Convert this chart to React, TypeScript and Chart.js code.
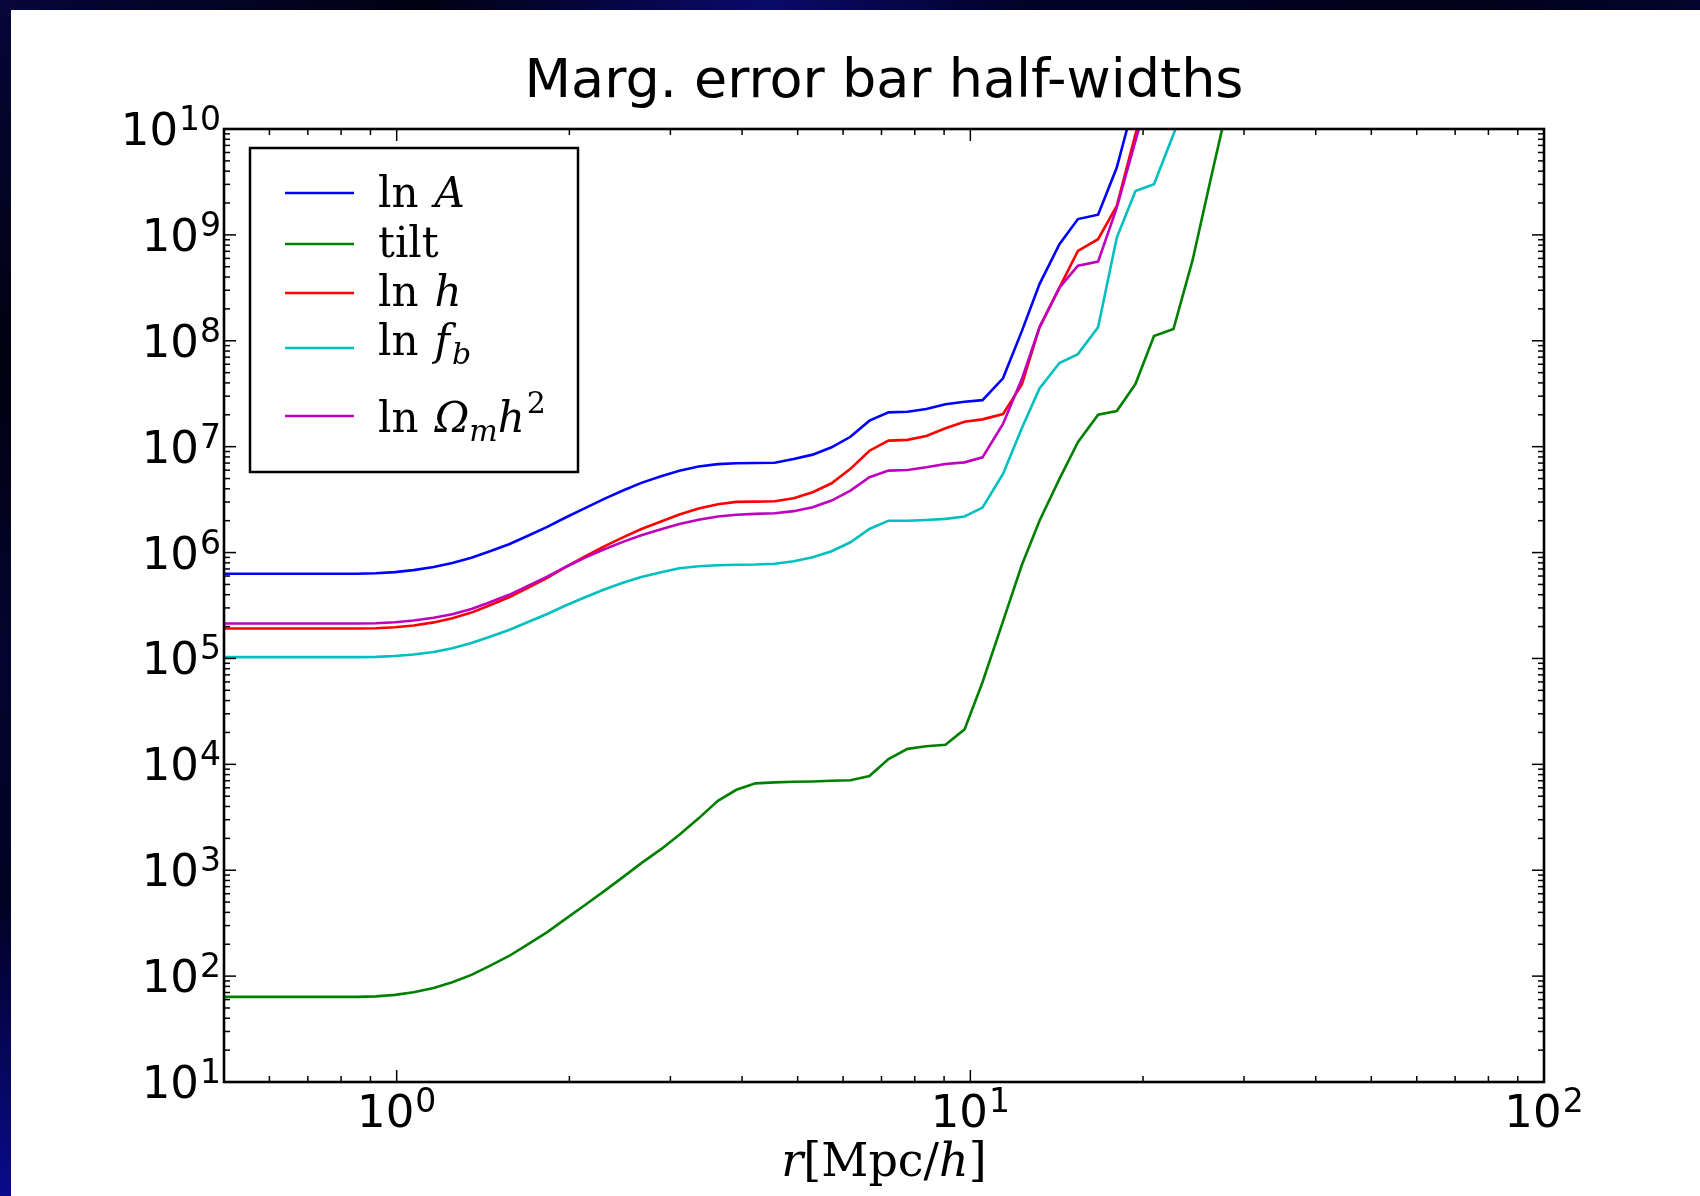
import React, { useEffect, useRef } from "react";
import { Chart, registerables } from "chart.js";

Chart.register(...registerables);

// ---------------- data ----------------
const TITLE = "Marg. error bar half-widths";

const R_VALUES = [
  0.5, 0.54, 0.582, 0.629, 0.678, 0.732, 0.79, 0.853, 0.92, 0.993,
  1.07, 1.16, 1.25, 1.35, 1.45, 1.57, 1.69, 1.83, 1.97, 2.13,
  2.3, 2.48, 2.67, 2.89, 3.11, 3.36, 3.63, 3.91, 4.22, 4.56,
  4.92, 5.31, 5.73, 6.18, 6.67, 7.2, 7.77, 8.38, 9.05, 9.77,
  10.5, 11.4, 12.3, 13.2, 14.3, 15.4, 16.7, 18.0, 19.4, 20.9,
  22.6, 24.4, 26.3, 28.4,
];

const LN_A = [
  6.3e5, 6.3e5, 6.3e5, 6.3e5, 6.3e5, 6.3e5, 6.3e5, 6.3e5, 6.37e5, 6.53e5,
  6.82e5, 7.29e5, 7.98e5, 8.93e5, 1.023e6, 1.2e6, 1.435e6, 1.746e6, 2.143e6, 2.63e6,
  3.21e6, 3.855e6, 4.55e6, 5.26e6, 5.93e6, 6.49e6, 6.84e6, 6.98e6, 7.02e6, 7.06e6,
  7.66e6, 8.41e6, 9.86e6, 1.24e7, 1.76e7, 2.11e7, 2.14e7, 2.27e7, 2.52e7, 2.66e7,
  2.75e7, 4.42e7, 1.24e8, 3.43e8, 8.17e8, 1.41e9, 1.55e9, 4.32e9, 2.0e10, null,
  null, null, null, null,
];

const TILT = [
  63.7, 63.7, 63.7, 63.7, 63.7, 63.7, 63.7, 63.7, 64.4, 66.5,
  70.5, 77.3, 87.7, 102.8, 124.2, 154.9, 198.6, 260.6, 347.5, 468.8,
  635, 861, 1167, 1581, 2163, 3090, 4520, 5750, 6610, 6760,
  6840, 6890, 7000, 7080, 7760, 11200, 14000, 14800, 15300, 21400,
  59600, 2.24e5, 7.66e5, 2.0e6, 4.96e6, 1.1e7, 2.0e7, 2.17e7, 3.9e7, 1.11e8,
  1.29e8, 5.77e8, 3.55e9, 2.19e10,
];

const LN_H = [
  1.92e5, 1.92e5, 1.92e5, 1.92e5, 1.92e5, 1.92e5, 1.92e5, 1.92e5, 1.93e5, 1.97e5,
  2.05e5, 2.19e5, 2.4e5, 2.71e5, 3.16e5, 3.78e5, 4.62e5, 5.77e5, 7.28e5, 9.18e5,
  1.143e6, 1.393e6, 1.667e6, 1.968e6, 2.29e6, 2.61e6, 2.86e6, 3.01e6, 3.03e6, 3.05e6,
  3.26e6, 3.71e6, 4.51e6, 6.17e6, 9.16e6, 1.14e7, 1.16e7, 1.26e7, 1.49e7, 1.72e7,
  1.81e7, 2.03e7, 3.9e7, 1.34e8, 3.18e8, 7.06e8, 9.1e8, 1.88e9, 8.91e9, 4.0e10,
  null, null, null, null,
];

const LN_FB = [
  1.03e5, 1.03e5, 1.03e5, 1.03e5, 1.03e5, 1.03e5, 1.03e5, 1.03e5, 1.035e5, 1.054e5,
  1.089e5, 1.151e5, 1.25e5, 1.396e5, 1.596e5, 1.858e5, 2.198e5, 2.63e5, 3.16e5, 3.78e5,
  4.47e5, 5.18e5, 5.87e5, 6.53e5, 7.1e5, 7.43e5, 7.6e5, 7.67e5, 7.7e5, 7.85e5,
  8.28e5, 9.04e5, 1.03e6, 1.25e6, 1.67e6, 2.0e6, 2.0e6, 2.03e6, 2.08e6, 2.19e6,
  2.66e6, 5.52e6, 1.5e7, 3.55e7, 6.17e7, 7.48e7, 1.34e8, 9.44e8, 2.6e9, 3.01e9,
  8.91e9, 2.5e10, null, null,
];

const LN_OMH2 = [
  2.14e5, 2.14e5, 2.14e5, 2.14e5, 2.14e5, 2.14e5, 2.14e5, 2.14e5, 2.15e5, 2.2e5,
  2.28e5, 2.42e5, 2.62e5, 2.93e5, 3.37e5, 3.99e5, 4.82e5, 5.92e5, 7.31e5, 8.95e5,
  1.074e6, 1.262e6, 1.455e6, 1.656e6, 1.858e6, 2.04e6, 2.19e6, 2.275e6, 2.32e6, 2.35e6,
  2.46e6, 2.68e6, 3.1e6, 3.85e6, 5.14e6, 5.94e6, 6.03e6, 6.38e6, 6.87e6, 7.11e6,
  7.93e6, 1.64e7, 4.37e7, 1.34e8, 3.18e8, 5.11e8, 5.6e8, 1.81e9, 7.71e9, 3.2e10,
  null, null, null, null,
];

const SERIES_NAMES = ["ln A", "tilt", "ln h", "ln f_b", "ln Omega_m h^2"];
const SERIES_COLORS = ["#0000ff", "#008000", "#ff0000", "#00bfbf", "#bf00bf"];

const X_MIN = 0.5;
const X_MAX = 100;
const Y_MIN = 10;
const Y_MAX = 1e10;
const X_TICK_EXPONENTS = [0, 1, 2];
const Y_TICK_EXPONENTS = [1, 2, 3, 4, 5, 6, 7, 8, 9, 10];
const MINOR_MULTIPLIERS = [2, 3, 4, 5, 6, 7, 8, 9];

type Run = { t: string; it?: boolean; size?: number; dy?: number; pad?: number };

const LEGEND_RUNS: Run[][] = [
  [{ t: "ln" }, { t: "A", it: true, pad: 16 }],
  [{ t: "tilt" }],
  [{ t: "ln" }, { t: "h", it: true, pad: 16 }],
  [{ t: "ln" }, { t: "f", it: true, pad: 16 }, { t: "b", it: true, size: 30, dy: 9, pad: 2 }],
  [
    { t: "ln" },
    { t: "\u03A9", it: true, pad: 16 },
    { t: "m", it: true, size: 30, dy: 9, pad: 0 },
    { t: "h", it: true, pad: 0 },
    { t: "2", size: 30, dy: -19, pad: 2 },
  ],
];

const X_LABEL_RUNS: Run[] = [
  { t: "r", it: true },
  { t: "[Mpc/" },
  { t: "h", it: true },
  { t: "]" },
];

// ---------------- drawing helpers ----------------
const SERIF = '"DejaVu Serif", serif';
const SANS = '"DejaVu Sans", sans-serif';

function runFont(r: Run, base: number) {
  return `${r.it ? "italic " : ""}${r.size ?? base}px ${SERIF}`;
}

function runsWidth(ctx: CanvasRenderingContext2D, runs: Run[], base: number) {
  let w = 0;
  for (const r of runs) {
    ctx.font = runFont(r, base);
    w += (r.pad ?? 0) + ctx.measureText(r.t).width;
  }
  return w;
}

function drawRuns(ctx: CanvasRenderingContext2D, runs: Run[], x: number, baseline: number, base: number) {
  let cx = x;
  for (const r of runs) {
    ctx.font = runFont(r, base);
    cx += r.pad ?? 0;
    ctx.fillText(r.t, cx, baseline + (r.dy ?? 0));
    cx += ctx.measureText(r.t).width;
  }
}

function powerLabelWidths(ctx: CanvasRenderingContext2D, exp: number) {
  ctx.font = `45px ${SANS}`;
  const wb = ctx.measureText("10").width;
  ctx.font = `33px ${SANS}`;
  const we = ctx.measureText(String(exp)).width;
  return { wb, we };
}

function drawPower(ctx: CanvasRenderingContext2D, exp: number, x: number, baseline: number) {
  const { wb } = powerLabelWidths(ctx, exp);
  ctx.font = `45px ${SANS}`;
  ctx.fillText("10", x, baseline);
  ctx.font = `33px ${SANS}`;
  ctx.fillText(String(exp), x + wb + 1, baseline - 15);
}

const backgroundPlugin = {
  id: "slideBackground",
  beforeDraw(chart: any) {
    const { ctx, width, height } = chart;
    ctx.save();
    ctx.fillStyle = "#02021c";
    ctx.fillRect(0, 0, width, height);
    const gl = ctx.createLinearGradient(0, 0, 0, height);
    gl.addColorStop(0, "#06063a");
    gl.addColorStop(0.3, "#01010f");
    gl.addColorStop(0.55, "#040430");
    gl.addColorStop(0.75, "#020222");
    gl.addColorStop(1, "#0a0a8c");
    ctx.fillStyle = gl;
    ctx.fillRect(0, 0, 11, height);
    const gt = ctx.createLinearGradient(0, 0, width, 0);
    gt.addColorStop(0, "#06063a");
    gt.addColorStop(0.25, "#010112");
    gt.addColorStop(0.45, "#0a0a6a");
    gt.addColorStop(0.6, "#02022a");
    gt.addColorStop(0.85, "#010118");
    gt.addColorStop(1, "#04042e");
    ctx.fillStyle = gt;
    ctx.fillRect(0, 0, width, 10);
    ctx.fillStyle = "#ffffff";
    ctx.fillRect(11, 10, width - 11, height - 10);
    ctx.restore();
  },
};

const decorPlugin = {
  id: "mplDecor",
  afterDraw(chart: any) {
    const { ctx, chartArea } = chart;
    const xs = chart.scales.x;
    const ys = chart.scales.y;
    const { left, right, top, bottom } = chartArea;
    ctx.save();
    ctx.fillStyle = "#000";
    ctx.strokeStyle = "#000";

    // ticks (inside, all four sides)
    ctx.lineWidth = 1.5;
    const tick = (x1: number, y1: number, x2: number, y2: number) => {
      ctx.beginPath();
      ctx.moveTo(x1, y1);
      ctx.lineTo(x2, y2);
      ctx.stroke();
    };
    const MAJ = 12;
    const MIN = 6;
    for (let e = -1; e <= 2; e++) {
      const base = Math.pow(10, e);
      if (X_TICK_EXPONENTS.includes(e)) {
        const px = xs.getPixelForValue(base);
        tick(px, bottom, px, bottom - MAJ);
        tick(px, top, px, top + MAJ);
      }
      for (const m of MINOR_MULTIPLIERS) {
        const v = m * base;
        if (v <= X_MIN || v >= X_MAX) continue;
        const px = xs.getPixelForValue(v);
        tick(px, bottom, px, bottom - MIN);
        tick(px, top, px, top + MIN);
      }
    }
    for (const e of Y_TICK_EXPONENTS) {
      const base = Math.pow(10, e);
      const py = ys.getPixelForValue(base);
      tick(left, py, left + MAJ, py);
      tick(right, py, right - MAJ, py);
      if (base * 2 < Y_MAX + 1) {
        for (const m of MINOR_MULTIPLIERS) {
          const pm = ys.getPixelForValue(m * base);
          tick(left, pm, left + MIN, pm);
          tick(right, pm, right - MIN, pm);
        }
      }
    }

    // frame
    ctx.lineWidth = 2.6;
    ctx.strokeRect(left, top, right - left, bottom - top);

    // title
    ctx.font = `54px ${SANS}`;
    ctx.textAlign = "center";
    ctx.textBaseline = "alphabetic";
    ctx.fillText(TITLE, (left + right) / 2, 97);
    ctx.textAlign = "left";

    // y tick labels
    for (const e of Y_TICK_EXPONENTS) {
      const py = ys.getPixelForValue(Math.pow(10, e));
      const { wb, we } = powerLabelWidths(ctx, e);
      const x0 = left - 3 - we - 1 - wb;
      drawPower(ctx, e, x0, py + 16);
    }

    // x tick labels
    for (const e of X_TICK_EXPONENTS) {
      const px = xs.getPixelForValue(Math.pow(10, e));
      const { wb, we } = powerLabelWidths(ctx, e);
      const total = wb + 1 + we;
      drawPower(ctx, e, px - total / 2, bottom + 45);
    }

    // x axis title
    const xw = runsWidth(ctx, X_LABEL_RUNS, 46);
    drawRuns(ctx, X_LABEL_RUNS, (left + right) / 2 - xw / 2, 1176, 46);

    // legend
    const LX = 250, LY = 148, LW = 328, LH = 324;
    ctx.fillStyle = "#fff";
    ctx.fillRect(LX, LY, LW, LH);
    ctx.lineWidth = 2.5;
    ctx.strokeStyle = "#000";
    ctx.strokeRect(LX, LY, LW, LH);
    const handleY = [193, 244, 293, 348, 416];
    const baselines = [207, 257, 306, 355, 432];
    ctx.fillStyle = "#000";
    LEGEND_RUNS.forEach((runs, i) => {
      ctx.strokeStyle = SERIES_COLORS[i];
      ctx.lineWidth = 2.5;
      ctx.beginPath();
      ctx.moveTo(285, handleY[i]);
      ctx.lineTo(354, handleY[i]);
      ctx.stroke();
      drawRuns(ctx, runs, 378, baselines[i], 42);
    });
    ctx.restore();
  },
};

function toPoints(vals: (number | null)[]) {
  const pts: { x: number; y: number }[] = [];
  vals.forEach((v, i) => {
    if (v !== null) pts.push({ x: R_VALUES[i], y: v });
  });
  return pts;
}

export default function App() {
  const ref = useRef<HTMLCanvasElement>(null);
  useEffect(() => {
    if (!ref.current) return;
    const all = [LN_A, TILT, LN_H, LN_FB, LN_OMH2];
    const chart = new Chart(ref.current, {
      type: "line",
      data: {
        datasets: all.map((vals, i) => ({
          label: SERIES_NAMES[i],
          data: toPoints(vals),
          borderColor: SERIES_COLORS[i],
          backgroundColor: SERIES_COLORS[i],
          borderWidth: 2.6,
          pointRadius: 0,
          tension: 0,
          fill: false,
          order: all.length - i,
        })),
      },
      options: {
        responsive: false,
        animation: false,
        devicePixelRatio: 1,
        layout: { padding: { left: 0, top: 129, right: 156, bottom: 0 } },
        plugins: {
          legend: { display: false },
          title: { display: false },
          tooltip: { enabled: false },
        },
        scales: {
          x: {
            type: "logarithmic",
            min: X_MIN,
            max: X_MAX,
            grid: { display: false },
            border: { display: false },
            ticks: { display: false },
            afterFit: (s: any) => {
              s.height = 114;
            },
          },
          y: {
            type: "logarithmic",
            min: Y_MIN,
            max: Y_MAX,
            grid: { display: false },
            border: { display: false },
            ticks: { display: false },
            afterFit: (s: any) => {
              s.width = 224;
            },
          },
        },
      } as any,
      plugins: [backgroundPlugin, decorPlugin],
    });
    return () => chart.destroy();
  }, []);
  return (
    <div style={{ position: "absolute", left: 0, top: 0, width: 1700, height: 1196 }}>
      <canvas ref={ref} width={1700} height={1196} style={{ width: 1700, height: 1196, display: "block" }} />
    </div>
  );
}
